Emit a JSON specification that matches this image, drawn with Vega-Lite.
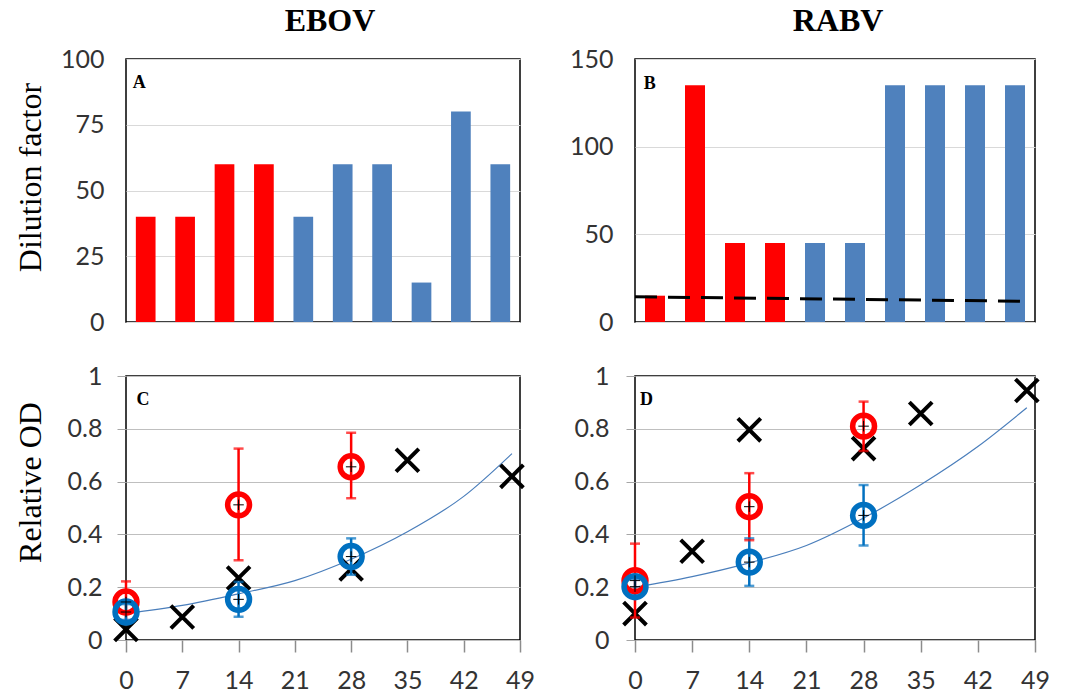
{
  "$schema": "https://vega.github.io/schema/vega-lite/v6.json",
  "background": "white",
  "padding": {"left": 13, "top": 4, "right": 10, "bottom": 0},
  "columns": 2,
  "bounds": "flush",
  "spacing": {"row": 54, "column": 115},
  "resolve": {"scale": {"color": "independent"}},
  "config": {
    "view": {"stroke": "black", "strokeWidth": 1.5},
    "axis": {"labelFont": "Lato", "labelFontSize": 25, "labelColor": "#333333", "titleFont": "Liberation Serif", "titleFontSize": 32, "titleFontWeight": "normal", "titleColor": "black", "domain": false, "labelOverlap": false},
    "title": {"font": "Liberation Serif", "fontSize": 32, "fontWeight": "bold", "color": "black", "baseline": "alphabetic", "offset": 9}
  },
  "concat": [
    {
      "width": 394, "height": 263,
      "title": {"text": "EBOV", "dx": 7},
      "layer": [
        {
          "data": {"values": [
            {"i": 1, "v": 40, "g": "Group 1"}, {"i": 2, "v": 40, "g": "Group 1"}, {"i": 3, "v": 60, "g": "Group 1"}, {"i": 4, "v": 60, "g": "Group 1"},
            {"i": 5, "v": 40, "g": "Group 2"}, {"i": 6, "v": 60, "g": "Group 2"}, {"i": 7, "v": 60, "g": "Group 2"}, {"i": 8, "v": 15, "g": "Group 2"},
            {"i": 9, "v": 80, "g": "Group 2"}, {"i": 10, "v": 60, "g": "Group 2"}
          ]},
          "mark": {"type": "bar"},
          "encoding": {
            "x": {"field": "i", "type": "ordinal", "axis": null, "scale": {"paddingInner": 0.5, "paddingOuter": 0.25}},
            "y": {"field": "v", "type": "quantitative", "scale": {"domain": [0, 100], "nice": false},
                  "axis": {"values": [0, 25, 50, 75, 100], "ticks": false, "grid": true, "gridColor": "#d9d9d9", "labelPadding": 22,
                           "title": "Dilution factor", "titleX": -86, "titleY": 118, "titleBaseline": "alphabetic", "titleAlign": "center"}},
            "color": {"field": "g", "type": "nominal", "scale": {"domain": ["Group 1", "Group 2"], "range": ["#FF0000", "#4F81BD"]}, "legend": null}
          }
        },
        {
          "data": {"values": [{"i": 1, "v": 89, "t": "A"}]},
          "mark": {"type": "text", "font": "Liberation Serif", "fontWeight": "bold", "fontSize": 18, "align": "left", "baseline": "alphabetic", "dx": -3, "color": "black"},
          "encoding": {
            "x": {"field": "i", "type": "ordinal", "bandPosition": 0, "axis": null},
            "y": {"field": "v", "type": "quantitative", "axis": {"title": "Dilution factor"}},
            "text": {"field": "t"}
          }
        }
      ]
    },
    {
      "width": 400, "height": 263,
      "title": {"text": "RABV", "dx": 3},
      "resolve": {"scale": {"x": "independent"}},
      "layer": [
        {
          "data": {"values": [
            {"i": 1, "v": 15, "g": "Group 1"}, {"i": 2, "v": 135, "g": "Group 1"}, {"i": 3, "v": 45, "g": "Group 1"}, {"i": 4, "v": 45, "g": "Group 1"},
            {"i": 5, "v": 45, "g": "Group 2"}, {"i": 6, "v": 45, "g": "Group 2"}, {"i": 7, "v": 135, "g": "Group 2"}, {"i": 8, "v": 135, "g": "Group 2"},
            {"i": 9, "v": 135, "g": "Group 2"}, {"i": 10, "v": 135, "g": "Group 2"}
          ]},
          "mark": {"type": "bar"},
          "encoding": {
            "x": {"field": "i", "type": "ordinal", "axis": null, "scale": {"paddingInner": 0.5, "paddingOuter": 0.25}},
            "y": {"field": "v", "type": "quantitative", "scale": {"domain": [0, 150], "nice": false},
                  "axis": {"values": [0, 50, 100, 150], "ticks": false, "grid": true, "gridColor": "#d9d9d9", "labelPadding": 22, "title": null}},
            "color": {"field": "g", "type": "nominal", "scale": {"domain": ["Group 1", "Group 2"], "range": ["#FF0000", "#4F81BD"]}, "legend": null}
          }
        },
        {
          "data": {"values": [{"p": 0, "v": 14.4}, {"p": 9.75, "v": 11.8}]},
          "mark": {"type": "line", "color": "black", "strokeWidth": 3, "strokeDash": [22, 11]},
          "encoding": {
            "x": {"field": "p", "type": "quantitative", "scale": {"domain": [0, 10], "nice": false}, "axis": null},
            "y": {"field": "v", "type": "quantitative", "axis": {"title": null}}
          }
        },
        {
          "data": {"values": [{"p": 0.22, "v": 133, "t": "B"}]},
          "mark": {"type": "text", "font": "Liberation Serif", "fontWeight": "bold", "fontSize": 18, "align": "left", "baseline": "alphabetic", "color": "black"},
          "encoding": {
            "x": {"field": "p", "type": "quantitative", "scale": {"domain": [0, 10], "nice": false}, "axis": null},
            "y": {"field": "v", "type": "quantitative", "axis": {"title": null}},
            "text": {"field": "t"}
          }
        }
      ]
    },
    {
      "width": 394, "height": 264,
      "layer": [
        {
          "data": {"values": [
            {"day": 0, "od": 0.10}, {"day": 7, "od": 0.131}, {"day": 14, "od": 0.175}, {"day": 21, "od": 0.225},
            {"day": 28, "od": 0.306}, {"day": 35, "od": 0.41}, {"day": 42, "od": 0.544}, {"day": 48, "od": 0.706}
          ]},
          "mark": {"type": "line", "color": "#4A7EBB", "strokeWidth": 1.2, "interpolate": "monotone"},
          "encoding": {
            "x": {"field": "day", "type": "quantitative", "scale": {"domain": [0, 49], "nice": false},
                  "axis": {"values": [0, 7, 14, 21, 28, 35, 42, 49], "ticks": true, "tickSize": 12, "tickColor": "#8c8c8c", "tickWidth": 1.5, "grid": false, "labelPadding": 16, "labelFlush": false, "title": null}},
            "y": {"field": "od", "type": "quantitative", "scale": {"domain": [0, 1], "nice": false},
                  "axis": {"values": [0, 0.2, 0.4, 0.6, 0.8, 1], "format": "~g", "ticks": true, "tickSize": 9, "tickColor": "#a6a6a6", "grid": true, "gridColor": "#bfbfbf", "labelPadding": 15,
                           "title": "Relative OD", "titleX": -86, "titleY": 106, "titleBaseline": "alphabetic", "titleAlign": "center"}}
          }
        },
        {
          "data": {"values": [
            {"day": 0, "od": 0.04}, {"day": 7, "od": 0.087}, {"day": 14, "od": 0.235}, {"day": 28, "od": 0.269}, {"day": 35, "od": 0.681}, {"day": 48, "od": 0.62}
          ]},
          "mark": {"type": "point", "shape": "M-1,-1L1,1M1,-1L-1,1", "color": "black", "strokeWidth": 4, "size": 520, "filled": false, "opacity": 1},
          "encoding": {
            "x": {"field": "day", "type": "quantitative", "axis": {"title": null}},
            "y": {"field": "od", "type": "quantitative", "axis": {"title": "Relative OD"}}
          }
        },
        {
          "data": {"values": [
            {"day": 0, "od": 0.144, "lo": 0.066, "hi": 0.222, "g": "Group 1"}, {"day": 14, "od": 0.512, "lo": 0.302, "hi": 0.725, "g": "Group 1"}, {"day": 28, "od": 0.656, "lo": 0.537, "hi": 0.785, "g": "Group 1"},
            {"day": 0, "od": 0.106, "lo": 0.076, "hi": 0.136, "g": "Group 2"}, {"day": 14, "od": 0.154, "lo": 0.088, "hi": 0.22, "g": "Group 2"}, {"day": 28, "od": 0.316, "lo": 0.247, "hi": 0.385, "g": "Group 2"}
          ]},
          "layer": [
            {
              "mark": {"type": "rule", "strokeWidth": 2.5},
              "encoding": {
                "x": {"field": "day", "type": "quantitative", "axis": {"title": null}},
                "y": {"field": "lo", "type": "quantitative", "axis": {"title": "Relative OD"}},
                "y2": {"field": "hi"},
                "color": {"field": "g", "type": "nominal", "scale": {"domain": ["Group 1", "Group 2"], "range": ["#FF0000", "#0070C0"]}, "legend": null}
              }
            },
            {
              "mark": {"type": "tick", "orient": "horizontal", "size": 10, "thickness": 2.5},
              "encoding": {
                "x": {"field": "day", "type": "quantitative", "axis": {"title": null}},
                "y": {"field": "hi", "type": "quantitative", "axis": {"title": "Relative OD"}},
                "color": {"field": "g", "type": "nominal", "legend": null}
              }
            },
            {
              "mark": {"type": "tick", "orient": "horizontal", "size": 10, "thickness": 2.5},
              "encoding": {
                "x": {"field": "day", "type": "quantitative", "axis": {"title": null}},
                "y": {"field": "lo", "type": "quantitative", "axis": {"title": "Relative OD"}},
                "color": {"field": "g", "type": "nominal", "legend": null}
              }
            },
            {
              "mark": {"type": "point", "shape": "circle", "filled": false, "strokeWidth": 5.5, "size": 480, "opacity": 1},
              "encoding": {
                "x": {"field": "day", "type": "quantitative", "axis": {"title": null}},
                "y": {"field": "od", "type": "quantitative", "axis": {"title": "Relative OD"}},
                "color": {"field": "g", "type": "nominal", "legend": null}
              }
            },
            {
              "mark": {"type": "point", "shape": "M-1,0L1,0M0,-1L0,1", "color": "black", "strokeWidth": 1, "size": 110, "filled": false, "opacity": 1},
              "encoding": {
                "x": {"field": "day", "type": "quantitative", "axis": {"title": null}},
                "y": {"field": "od", "type": "quantitative", "axis": {"title": "Relative OD"}}
              }
            }
          ]
        },
        {
          "data": {"values": [{"day": 1.3, "od": 0.89, "t": "C"}]},
          "mark": {"type": "text", "font": "Liberation Serif", "fontWeight": "bold", "fontSize": 18, "align": "left", "baseline": "alphabetic", "color": "black"},
          "encoding": {
            "x": {"field": "day", "type": "quantitative", "axis": {"title": null}},
            "y": {"field": "od", "type": "quantitative", "axis": {"title": "Relative OD"}},
            "text": {"field": "t"}
          }
        }
      ]
    },
    {
      "width": 400, "height": 264,
      "layer": [
        {
          "data": {"values": [
            {"day": 0, "od": 0.2}, {"day": 7, "od": 0.24}, {"day": 14, "od": 0.292}, {"day": 21, "od": 0.358},
            {"day": 28, "od": 0.462}, {"day": 35, "od": 0.588}, {"day": 42, "od": 0.733}, {"day": 48, "od": 0.88}
          ]},
          "mark": {"type": "line", "color": "#4A7EBB", "strokeWidth": 1.2, "interpolate": "monotone"},
          "encoding": {
            "x": {"field": "day", "type": "quantitative", "scale": {"domain": [0, 49], "nice": false},
                  "axis": {"values": [0, 7, 14, 21, 28, 35, 42, 49], "ticks": true, "tickSize": 12, "tickColor": "#8c8c8c", "tickWidth": 1.5, "grid": false, "labelPadding": 16, "labelFlush": false, "title": null}},
            "y": {"field": "od", "type": "quantitative", "scale": {"domain": [0, 1], "nice": false},
                  "axis": {"values": [0, 0.2, 0.4, 0.6, 0.8, 1], "format": "~g", "ticks": true, "tickSize": 9, "tickColor": "#a6a6a6", "grid": true, "gridColor": "#bfbfbf", "labelPadding": 17, "title": null}}
          }
        },
        {
          "data": {"values": [
            {"day": 0, "od": 0.10}, {"day": 7, "od": 0.336}, {"day": 14, "od": 0.796}, {"day": 28, "od": 0.725}, {"day": 35, "od": 0.858}, {"day": 48, "od": 0.945}
          ]},
          "mark": {"type": "point", "shape": "M-1,-1L1,1M1,-1L-1,1", "color": "black", "strokeWidth": 4, "size": 520, "filled": false, "opacity": 1},
          "encoding": {
            "x": {"field": "day", "type": "quantitative", "axis": {"title": null}},
            "y": {"field": "od", "type": "quantitative", "axis": {"title": null}}
          }
        },
        {
          "data": {"values": [
            {"day": 0, "od": 0.225, "lo": 0.085, "hi": 0.365, "g": "Group 1"}, {"day": 14, "od": 0.505, "lo": 0.378, "hi": 0.632, "g": "Group 1"}, {"day": 28, "od": 0.81, "lo": 0.716, "hi": 0.903, "g": "Group 1"},
            {"day": 0, "od": 0.202, "lo": 0.172, "hi": 0.232, "g": "Group 2"}, {"day": 14, "od": 0.295, "lo": 0.205, "hi": 0.385, "g": "Group 2"}, {"day": 28, "od": 0.472, "lo": 0.358, "hi": 0.587, "g": "Group 2"}
          ]},
          "layer": [
            {
              "mark": {"type": "rule", "strokeWidth": 2.5},
              "encoding": {
                "x": {"field": "day", "type": "quantitative", "axis": {"title": null}},
                "y": {"field": "lo", "type": "quantitative", "axis": {"title": null}},
                "y2": {"field": "hi"},
                "color": {"field": "g", "type": "nominal", "scale": {"domain": ["Group 1", "Group 2"], "range": ["#FF0000", "#0070C0"]}, "legend": null}
              }
            },
            {
              "mark": {"type": "tick", "orient": "horizontal", "size": 10, "thickness": 2.5},
              "encoding": {
                "x": {"field": "day", "type": "quantitative", "axis": {"title": null}},
                "y": {"field": "hi", "type": "quantitative", "axis": {"title": null}},
                "color": {"field": "g", "type": "nominal", "legend": null}
              }
            },
            {
              "mark": {"type": "tick", "orient": "horizontal", "size": 10, "thickness": 2.5},
              "encoding": {
                "x": {"field": "day", "type": "quantitative", "axis": {"title": null}},
                "y": {"field": "lo", "type": "quantitative", "axis": {"title": null}},
                "color": {"field": "g", "type": "nominal", "legend": null}
              }
            },
            {
              "mark": {"type": "point", "shape": "circle", "filled": false, "strokeWidth": 5.5, "size": 480, "opacity": 1},
              "encoding": {
                "x": {"field": "day", "type": "quantitative", "axis": {"title": null}},
                "y": {"field": "od", "type": "quantitative", "axis": {"title": null}},
                "color": {"field": "g", "type": "nominal", "legend": null}
              }
            },
            {
              "mark": {"type": "point", "shape": "M-1,0L1,0M0,-1L0,1", "color": "black", "strokeWidth": 1, "size": 110, "filled": false, "opacity": 1},
              "encoding": {
                "x": {"field": "day", "type": "quantitative", "axis": {"title": null}},
                "y": {"field": "od", "type": "quantitative", "axis": {"title": null}}
              }
            }
          ]
        },
        {
          "data": {"values": [{"day": 0.6, "od": 0.89, "t": "D"}]},
          "mark": {"type": "text", "font": "Liberation Serif", "fontWeight": "bold", "fontSize": 18, "align": "left", "baseline": "alphabetic", "color": "black"},
          "encoding": {
            "x": {"field": "day", "type": "quantitative", "axis": {"title": null}},
            "y": {"field": "od", "type": "quantitative", "axis": {"title": null}},
            "text": {"field": "t"}
          }
        }
      ]
    }
  ]
}
